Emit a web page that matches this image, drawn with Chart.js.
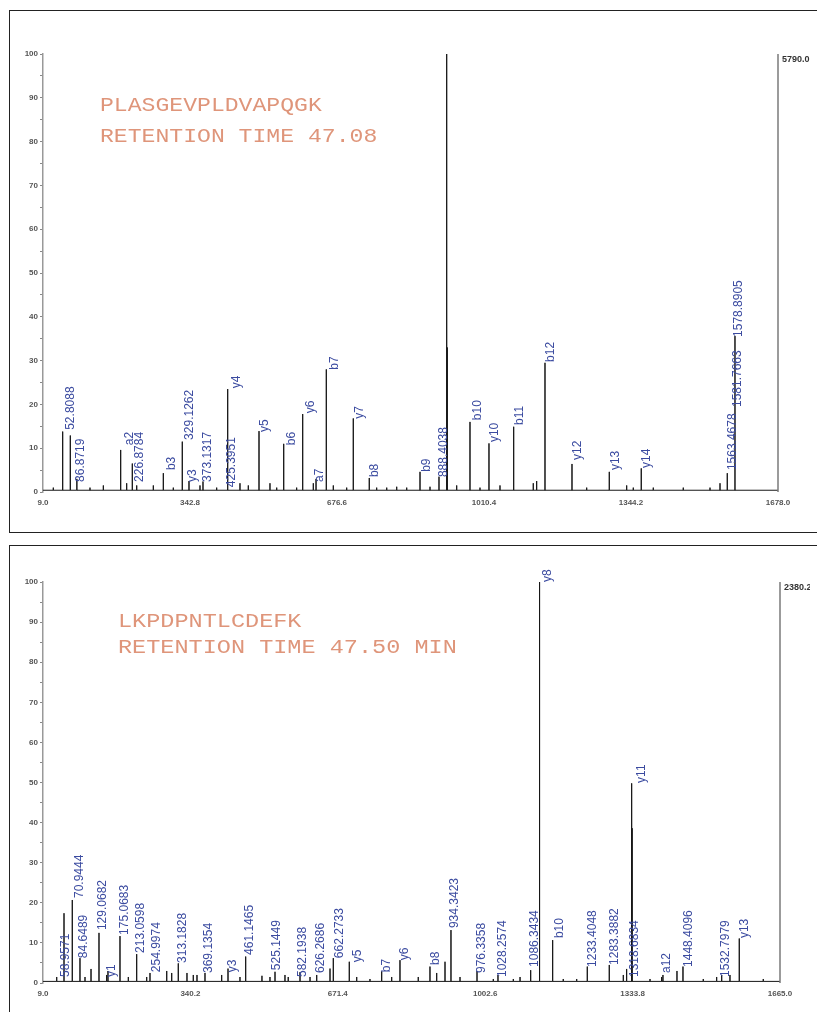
<!DOCTYPE html>
<html>
<head>
<meta charset="utf-8">
<script src="https://cdn.jsdelivr.net/npm/chart.js@4.4.1/dist/chart.umd.min.js"></script>
<style>
  body { margin: 0; background: #fff; width: 817px; height: 1012px; overflow: hidden; position: relative; }
  .frame { position: absolute; border: 1px solid #222; }
  canvas { position: absolute; }
</style>
</head>
<body>
<div class="frame" style="left:9px; top:10px; width:820px; height:521px;"></div>
<div class="frame" style="left:9px; top:545px; width:820px; height:480px;"></div>
<canvas id="topChart" width="800" height="520" style="left:10px; top:11px;"></canvas>
<canvas id="bottomChart" width="800" height="466" style="left:10px; top:546px;"></canvas>
<script>
// ---- top spectrum: PLASGEVPLDVAPQGK ----
const topTicks = [9.0, 342.8, 676.6, 1010.4, 1344.2, 1678.0];
const topPeakMz  = [53.7, 71.0, 86.2, 185.4, 211.8, 282.2, 325.3, 340.5, 372.3, 428.4, 499.5, 555.6, 598.7, 629.0, 652.3, 713.6, 749.9, 865.1, 908.2, 925.7, 927.0, 978.6, 1021.7, 1077.8, 1148.9, 1210.2, 1294.9, 1367.5, 1562.8, 1580.3];
const topPeakInt = [13.8, 12.9, 3.0, 9.6, 6.5, 4.3, 11.5, 2.5, 2.4, 23.5, 13.9, 11.0, 17.8, 3.0, 28.0, 16.8, 3.2, 4.6, 3.5, 100, 33, 16.0, 11.1, 14.9, 29.5, 6.4, 4.6, 5.4, 4.3, 35.6];
const topNoiseMz  = [32.4, 85.5, 115.7, 146, 199, 221.8, 259.5, 304.9, 365.5, 403.4, 456.3, 475.2, 524.4, 539.7, 585, 622.8, 668.2, 698.6, 766.7, 789.5, 812.2, 834.9, 887.8, 948.4, 1001.3, 1046.7, 1122.3, 1130, 1243.6, 1334.4, 1349.4, 1394.8, 1462.9, 1523.6, 1546.3];
const topNoiseInt = [1.0, 2.0, 1.0, 1.5, 2.0, 1.5, 1.5, 1.0, 1.5, 1.0, 2.0, 1.5, 2.0, 1.0, 1.0, 2.0, 1.5, 1.0, 1.0, 1.0, 1.2, 1.0, 1.2, 1.5, 1.0, 1.5, 2.0, 2.5, 1.0, 1.5, 1.0, 1.0, 1.0, 1.0, 2.0];
const topLabelText = ['52.8088', '86.8719', 'a2', '226.8784', 'b3', '329.1262', 'y3', '373.1317', '425.3951', 'y4', 'y5', 'b6', 'y6', 'a7', 'b7', 'y7', 'b8', 'b9', '888.4038', 'b10', 'y10', 'b11', 'b12', 'y12', 'y13', 'y14', '1563.4678', '1581.7663', '1578.8905'];
const topLabelMz   = [72.6, 95.3, 206.5, 229.3, 301.9, 342.8, 349.6, 383.7, 438.2, 449.5, 513.1, 574.4, 617.5, 638.0, 672.0, 728.8, 762.9, 880.9, 919.5, 996.7, 1035.4, 1092.1, 1162.5, 1223.8, 1310.1, 1380.5, 1576.0, 1587.2, 1589.4];
const topLabelInt  = [14.2, 2.3, 10.7, 2.3, 5.0, 11.9, 2.3, 2.3, 1.1, 23.7, 13.7, 10.7, 18.0, 2.3, 27.9, 16.7, 3.4, 4.6, 3.4, 16.4, 11.4, 15.3, 29.7, 7.3, 5.0, 5.5, 5.0, 19.4, 35.4];

// ---- bottom spectrum: LKPDPNTLCDEFK ----
const bottomTicks = [9.0, 340.2, 671.4, 1002.6, 1333.8, 1665.0];
const bottomPeakMz  = [56.2, 74.8, 92.1, 116.9, 134.8, 155.0, 182.0, 219.5, 249.4, 287.0, 313.0, 332.5, 355.0, 373.0, 424.7, 464.4, 501.0, 530.3, 586.5, 653.9, 661.3, 697.2, 770.0, 811.1, 878.5, 912.3, 925.7, 984.2, 1031.3, 1104.8, 1124.1, 1125.2, 1154.2, 1232.0, 1281.4, 1320.4, 1331.7, 1332.8, 1402.0, 1433.5, 1447.0, 1534.0, 1573.5];
const bottomPeakInt = [17.4, 20.7, 6.2, 3.5, 12.5, 3.0, 11.7, 7.2, 2.5, 3.0, 4.9, 2.5, 2.0, 2.5, 3.6, 6.6, 1.8, 2.8, 2.7, 3.6, 6.2, 5.3, 2.9, 5.7, 4.1, 5.3, 13.2, 3.0, 2.0, 3.2, 100, 26, 10.7, 4.1, 4.5, 3.5, 49.8, 38.6, 2.0, 3.0, 4.1, 2.0, 11.1];
const bottomNoiseMz  = [39.8, 103.4, 152, 200.7, 242, 298.2, 346.7, 410.5, 451.6, 519, 552.7, 560, 609, 624, 713.9, 743.7, 792.5, 852.2, 893.6, 946, 1020.8, 1065.8, 1080.9, 1178, 1208.2, 1312.9, 1372.9, 1399, 1492.6, 1522.7, 1552.6, 1627.4];
const bottomNoiseInt = [1.5, 1.5, 2.0, 1.5, 1.5, 2.5, 2.0, 2.0, 1.5, 1.5, 2.0, 1.5, 1.5, 2.0, 1.5, 1.0, 1.5, 1.5, 2.5, 1.5, 1.0, 1.0, 1.5, 1.0, 1.0, 2.0, 1.0, 1.5, 1.0, 1.5, 2.0, 1.0];
const bottomLabelText = ['58.9571', '70.9444', '84.6489', '129.0682', 'y1', '175.0683', '213.0598', '254.9974', '313.1828', '369.1354', 'y3', '461.1465', '525.1449', '582.1938', '626.2686', '662.2733', 'y5', 'b7', 'y6', 'b8', '934.3423', '976.3358', '1028.2574', '1086.3434', 'y8', 'b10', '1233.4048', '1283.3882', '1318.6834', 'y11', 'a12', '1448.4096', '1532.7979', 'y13'];
const bottomLabelMz   = [60.7, 92.1, 101.1, 143.8, 164.0, 193.2, 229.2, 265.1, 323.6, 382.0, 435.9, 474.1, 534.8, 593.2, 633.6, 676.3, 716.8, 781.9, 822.4, 892.0, 934.7, 995.4, 1042.6, 1114.5, 1143.7, 1170.6, 1244.8, 1294.2, 1338.7, 1353.7, 1411.0, 1460.5, 1543.6, 1586.3];
const bottomLabelInt  = [1.5, 21.2, 6.2, 13.2, 1.5, 12.0, 7.5, 2.7, 5.0, 2.5, 2.7, 7.0, 3.2, 1.5, 2.5, 6.2, 5.2, 2.7, 5.7, 4.5, 13.7, 2.5, 1.5, 4.0, 100, 11.2, 4.0, 4.5, 1.5, 49.9, 2.5, 4.0, 1.5, 11.2];

// turn the peak lists into a stick spectrum (baseline -> top -> baseline)
function stickPoints(mz, inten, noiseMz, noiseInt, min, max) {
  const all = mz.map((m, i) => [m, inten[i]])
    .concat(noiseMz.map((m, i) => [m, noiseInt[i]]))
    .sort((a, b) => a[0] - b[0]);
  const base = 0.4;
  const pts = [{ x: min, y: base }];
  all.forEach(([m, h]) => {
    pts.push({ x: m, y: base }, { x: m, y: h }, { x: m, y: base });
  });
  pts.push({ x: max, y: base });
  return pts;
}

// vertical ion labels, title text and right-hand frame line
const spectrumDecor = {
  id: 'spectrumDecor',
  afterDatasetsDraw(chart, args, opts) {
    const ctx = chart.ctx;
    const xs = chart.scales.x, ys = chart.scales.y;
    const area = chart.chartArea;
    ctx.save();

    // right frame line + max intensity
    ctx.strokeStyle = '#7a7a7a';
    ctx.lineWidth = 1.5;
    ctx.beginPath();
    ctx.moveTo(area.right, area.top);
    ctx.lineTo(area.right, area.bottom);
    ctx.stroke();
    ctx.fillStyle = '#333';
    ctx.font = 'bold 9px Arial, "Liberation Sans", sans-serif';
    ctx.textAlign = 'left';
    ctx.textBaseline = 'middle';
    ctx.fillText(opts.maxText, area.right + 4, area.top + 6);

    // ion labels
    ctx.fillStyle = '#3b4ba0';
    ctx.font = '12px Arial, "Liberation Sans", sans-serif';
    opts.labels.forEach((t, i) => {
      const px = xs.getPixelForValue(opts.labelMz[i]);
      const py = ys.getPixelForValue(opts.labelInt[i]);
      ctx.save();
      ctx.translate(px, py);
      ctx.rotate(-Math.PI / 2);
      ctx.textAlign = 'left';
      ctx.textBaseline = 'middle';
      ctx.fillText(t, 0, 0);
      ctx.restore();
    });

    // peptide / retention time text
    ctx.fillStyle = '#df957a';
    ctx.font = '21px "Liberation Mono", "Courier New", monospace';
    ctx.textAlign = 'left';
    ctx.textBaseline = 'alphabetic';
    opts.title.forEach((line, i) => {
      ctx.save();
      ctx.translate(opts.titleX, opts.titleY[i]);
      ctx.scale(opts.titleScale, 1);
      ctx.fillText(line, 0, 0);
      ctx.restore();
    });
    ctx.restore();
  }
};

function makeSpectrum(id, ticks, points, decor, pad, xAxisH) {
  return new Chart(document.getElementById(id), {
    type: 'line',
    data: {
      datasets: [{
        data: points,
        borderColor: '#161616',
        borderWidth: 1,
        pointRadius: 0,
        tension: 0,
        fill: false
      }]
    },
    options: {
      responsive: false,
      animation: false,
      parsing: false,
      layout: { padding: pad },
      plugins: {
        legend: { display: false },
        tooltip: { enabled: false },
        spectrumDecor: decor
      },
      scales: {
        x: {
          type: 'linear',
          min: ticks[0],
          max: ticks[ticks.length - 1],
          afterBuildTicks: (axis) => { axis.ticks = ticks.map(v => ({ value: v })); },
          afterFit: (axis) => { axis.height = xAxisH; },
          grid: { display: false, drawTicks: false },
          border: { display: false },
          ticks: {
            autoSkip: false,
            maxRotation: 0,
            padding: 6,
            color: '#555',
            font: { size: 8, weight: 'bold', family: 'Arial, "Liberation Sans", sans-serif' },
            callback: (v) => Number(v).toFixed(1)
          }
        },
        y: {
          min: 0,
          max: 100,
          afterFit: (axis) => { axis.width = 33; },
          grid: { drawOnChartArea: false, tickLength: 3, color: '#888', lineWidth: 1 },
          border: { color: '#999', width: 1.5 },
          ticks: {
            stepSize: 5,
            autoSkip: false,
            padding: 2,
            color: '#555',
            font: { size: 8, weight: 'bold', family: 'Arial, "Liberation Sans", sans-serif' },
            callback: (v) => (v % 10 === 0 ? v : '')
          }
        }
      }
    },
    plugins: [spectrumDecor]
  });
}

makeSpectrum('topChart', topTicks,
  stickPoints(topPeakMz, topPeakInt, topNoiseMz, topNoiseInt, topTicks[0], topTicks[topTicks.length - 1]),
  {
    maxText: '5790.0',
    labels: topLabelText, labelMz: topLabelMz, labelInt: topLabelInt,
    title: ['PLASGEVPLDVAPQGK', 'RETENTION TIME 47.08'],
    titleX: 90, titleY: [100, 131], titleScale: 1.1
  },
  { left: 0, top: 43, right: 32, bottom: 0 }, 39);

makeSpectrum('bottomChart', bottomTicks,
  stickPoints(bottomPeakMz, bottomPeakInt, bottomNoiseMz, bottomNoiseInt, bottomTicks[0], bottomTicks[bottomTicks.length - 1]),
  {
    maxText: '2380.2',
    labels: bottomLabelText, labelMz: bottomLabelMz, labelInt: bottomLabelInt,
    title: ['LKPDPNTLCDEFK', 'RETENTION TIME 47.50 MIN'],
    titleX: 108, titleY: [81, 107], titleScale: 1.12
  },
  { left: 0, top: 36, right: 30, bottom: 0 }, 29);
</script>
</body>
</html>
